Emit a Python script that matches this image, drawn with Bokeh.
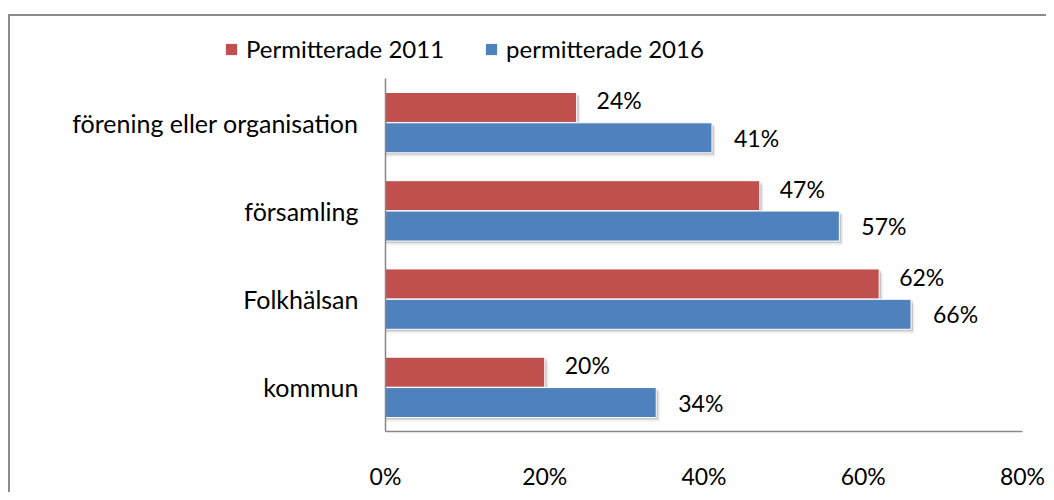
from bokeh.plotting import figure
from bokeh.layouts import column
from bokeh.models import (ColumnDataSource, FactorRange, Range1d, FixedTicker,
                          PrintfTickFormatter, Legend, LegendItem)
from bokeh.transform import dodge
from bokeh.core.properties import value
from bokeh.embed import file_html
from bokeh.resources import INLINE

# ---- data ----
categories = ["kommun", "Folkhälsan", "församling", "förening eller organisation"]
perm_2011 = [20, 62, 47, 24]
perm_2016 = [34, 66, 57, 41]
series_names = ["Permitterade 2011", "permitterade 2016"]
x_ticks = [0, 20, 40, 60, 80]

RED = "#C0504D"
BLUE = "#4F81BD"
FONT = "Lato"
FS = "23px"
FS_CAT = "25px"
FS_LEG = "24px"
W = 1046
TOP_H = 78
MAIN_H = 414

src = ColumnDataSource(dict(
    cat=categories,
    v11=perm_2011,
    v16=perm_2016,
    l11=[f"{v}%" for v in perm_2011],
    l16=[f"{v}%" for v in perm_2016],
    s11a=[v + 0.25 for v in perm_2011],
    s16a=[v + 0.25 for v in perm_2016],
    s11b=[v + 0.45 for v in perm_2011],
    s16b=[v + 0.45 for v in perm_2016],
))

# ---------- legend strip ----------
top = figure(width=W, height=TOP_H, output_backend="svg", toolbar_location=None,
             x_range=Range1d(0, 1), y_range=Range1d(0, 1),
             x_axis_location=None, y_axis_location=None,
             min_border=0)
top.frame_align = False
top.outline_line_color = None
top.grid.visible = False
top.background_fill_color = None
top.border_fill_color = None
# zero-height proxies: only their legend swatches are seen
d11 = top.hbar(y=0, left=0, right="v11", height=0, source=src,
               fill_color=RED, line_color=None)
d16 = top.hbar(y=0, left=0, right="v16", height=0, source=src,
               fill_color=BLUE, line_color=None)
legend = Legend(items=[LegendItem(label=series_names[0], renderers=[d11]),
                       LegendItem(label=series_names[1], renderers=[d16])],
                orientation="horizontal", location=(224, 15),
                border_line_color=None, background_fill_alpha=0,
                glyph_width=14, glyph_height=14, label_standoff=8, spacing=40,
                padding=0, margin=0,
                label_text_font=FONT, label_text_font_size=FS_LEG,
                label_text_color="black")
top.add_layout(legend, "center")

# ---------- main chart ----------
p = figure(width=W, height=MAIN_H, output_backend="svg", toolbar_location=None,
           y_range=FactorRange(factors=categories, range_padding=0),
           x_range=Range1d(0, 80),
           min_border_left=385, min_border_right=24,
           min_border_top=0, min_border_bottom=57)

p.outline_line_color = None
p.xgrid.visible = False
p.ygrid.visible = False
p.background_fill_color = None
p.border_fill_color = None

OFF = 0.172
H = 0.34

# shadows
for dy, col, a in [(-0.022, "s11a", 0.16), (-0.045, "s11b", 0.07)]:
    p.hbar(y=dodge("cat", OFF + dy, range=p.y_range), left=0, right=col, height=H,
           source=src, fill_color="black", fill_alpha=a, line_color=None)
for dy, col, a in [(-0.022, "s16a", 0.16), (-0.045, "s16b", 0.07)]:
    p.hbar(y=dodge("cat", -OFF + dy, range=p.y_range), left=0, right=col, height=H,
           source=src, fill_color="black", fill_alpha=a, line_color=None)

r11 = p.hbar(y=dodge("cat", OFF, range=p.y_range), left=0, right="v11", height=H,
             source=src, fill_color=RED, line_color="white", line_width=1)
r16 = p.hbar(y=dodge("cat", -OFF, range=p.y_range), left=0, right="v16", height=H,
             source=src, fill_color=BLUE, line_color="white", line_width=1)

p.text(x="v11", y=dodge("cat", OFF, range=p.y_range), text="l11", source=src,
       x_offset=20, y_offset=-7, text_baseline="middle", text_align="left",
       text_font=value(FONT), text_font_size=FS, text_color="black")
p.text(x="v16", y=dodge("cat", -OFF, range=p.y_range), text="l16", source=src,
       x_offset=22, y_offset=0, text_baseline="middle", text_align="left",
       text_font=value(FONT), text_font_size=FS, text_color="black")

p.xaxis.ticker = FixedTicker(ticks=x_ticks)
p.xaxis.formatter = PrintfTickFormatter(format="%d%%")
for ax in (p.xaxis, p.yaxis):
    ax.axis_line_color = "#868686"
    ax.axis_line_width = 1.5
    ax.major_tick_line_color = None
    ax.minor_tick_line_color = None
    ax.major_label_text_font = FONT
    ax.major_label_text_color = "black"
p.xaxis.major_label_standoff = 24
p.yaxis.major_label_standoff = 21
p.xaxis.major_label_text_font_size = FS
p.yaxis.major_label_text_font_size = FS_CAT

layout = column(top, p, spacing=0)
layout.styles = {
    "background-color": "white",
    "background-image": ("linear-gradient(#8c8c8c, #8c8c8c), "
                         "linear-gradient(#8c8c8c, #8c8c8c)"),
    "background-repeat": "no-repeat, no-repeat",
    "background-position": "8px 14px, 8px 14px",
    "background-size": "2px 100%, 100% 2px",
}

open("out.html", "w").write(file_html(layout, INLINE))
